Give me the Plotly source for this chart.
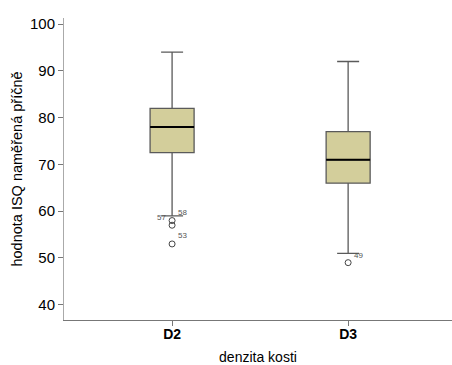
import plotly.graph_objects as go

# Bone density groups and ISQ summary statistics
categories = ["D2", "D3"]
positions = [0, 1]
q1 = [72.5, 66]
median = [78, 71]
q3 = [82, 77]
lower_whisker = [59, 51]
upper_whisker = [94, 92]

# Outlying measurements with their case numbers
outlier_group = [0, 0, 0, 1]
outlier_value = [58, 57, 53, 49]
outlier_case = ["58", "57", "53", "49"]

y_ticks = [40, 50, 60, 70, 80, 90, 100]

BOX_WIDTH = 0.25
FILL = "rgb(211,206,155)"
FONT = "Liberation Sans, Arial, sans-serif"

fig = go.Figure()

fig.add_trace(go.Box(
    x=positions,
    q1=q1, median=median, q3=q3,
    lowerfence=lower_whisker, upperfence=upper_whisker,
    width=BOX_WIDTH,
    whiskerwidth=0.5,
    fillcolor=FILL,
    line=dict(color="#5a5a5a", width=1.3),
    boxpoints=False,
    hoverinfo="skip",
    showlegend=False,
))

# Thick black median bars drawn over the boxes
for p, m in zip(positions, median):
    fig.add_trace(go.Scatter(
        x=[p - BOX_WIDTH / 2, p + BOX_WIDTH / 2], y=[m, m],
        mode="lines", line=dict(color="black", width=2.2),
        hoverinfo="skip", showlegend=False,
    ))

# Outlier circles
fig.add_trace(go.Scatter(
    x=outlier_group, y=outlier_value, mode="markers",
    marker=dict(symbol="circle-open", size=6, color="#444",
                line=dict(width=1, color="#444")),
    hoverinfo="skip", showlegend=False,
))

# Case-number labels beside the outliers (pixel offsets from each circle)
label_offsets = [(4, 8, "left"), (-4, 8, "right"), (4, 8, "left"), (4, 7, "left")]
for gx, val, case, (dx, dy, anchor) in zip(outlier_group, outlier_value,
                                           outlier_case, label_offsets):
    fig.add_annotation(
        x=gx, y=val, text=case, showarrow=False,
        xanchor=anchor, yanchor="middle", xshift=dx, yshift=dy,
        font=dict(family=FONT, size=8, color="#555"),
    )

fig.update_layout(
    width=452, height=365,
    margin=dict(l=64, r=0, t=18, b=44.5),
    paper_bgcolor="white", plot_bgcolor="white",
    font=dict(family=FONT, color="black"),
    xaxis=dict(
        range=[-0.614, 1.59],
        tickvals=positions,
        ticktext=["<b>%s</b>" % c for c in categories],
        tickfont=dict(size=14, color="black"),
        ticks="outside", ticklen=5, tickcolor="#777",
        ticklabelstandoff=-4,
        showline=True, linecolor="#777", linewidth=1,
        showgrid=False, zeroline=False,
        title=dict(text="denzita kosti", font=dict(size=14), standoff=12),
    ),
    yaxis=dict(
        range=[36.74, 101.3],
        tickvals=y_ticks,
        tickfont=dict(size=15, color="black"),
        ticks="outside", ticklen=5, tickcolor="#777",
        showline=True, linecolor="#aaa", linewidth=1,
        showgrid=False, zeroline=False,
        title=dict(text="hodnota ISQ naměřená příčně", font=dict(size=14.5), standoff=3),
    ),
)

fig.write_html("out.html")
